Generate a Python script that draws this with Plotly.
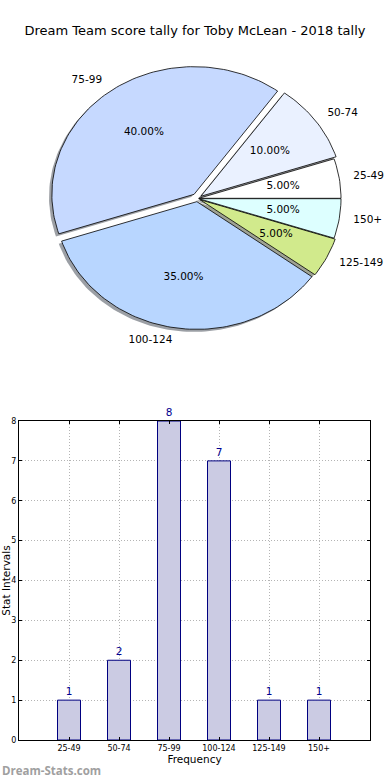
import math
import plotly.graph_objects as go

# ---- data ----
categories = ["25-49", "50-74", "75-99", "100-124", "125-149", "150+"]
counts = [1, 2, 8, 7, 1, 1]
pie_colors = ["#FFFFFF", "#EAF1FF", "#C6D9FF", "#B8D6FF", "#D1EA8C", "#DDFFFF"]
explode = [0.01, 0.03, 0.04, 0.025, 0.02, 0.01]
title_text = "Dream Team score tally for Toby McLean - 2018 tally"
bar_title_x = "Frequency"
bar_title_y = "Stat Intervals"
watermark = "Dream-Stats.com"

W, H = 390, 780
FONT = "DejaVu Sans"

# pie drawing area (pixel mapping of the pie's data axes)
PCX, PCY, RH, RV = 197.4, 198.5, 142.2, 127.7
PIE_BOTTOM = 390


def hex_rgb(h):
    h = h.lstrip("#")
    return tuple(int(h[i:i + 2], 16) for i in (0, 2, 4))


fig = go.Figure()

total = float(sum(counts))
wedges = []
start = 0.0
for lab, val, col, ex in zip(categories, counts, pie_colors, explode):
    t1 = start
    t2 = start + 360.0 * val / total
    start = t2
    mid = math.radians((t1 + t2) / 2)
    ox, oy = ex * math.cos(mid), ex * math.sin(mid)
    n = max(8, int((t2 - t1) / 1.5))
    xs = [ox] + [ox + math.cos(math.radians(t1 + (t2 - t1) * k / n)) for k in range(n + 1)] + [ox]
    ys = [oy] + [oy + math.sin(math.radians(t1 + (t2 - t1) * k / n)) for k in range(n + 1)] + [oy]
    wedges.append((lab, val, col, ex, mid, ox, oy, xs, ys))

# shadows (below all wedges)
for lab, val, col, ex, mid, ox, oy, xs, ys in wedges:
    r, g, b = hex_rgb(col)
    fig.add_trace(go.Scatter(
        x=[v - 0.02 for v in xs], y=[v - 0.02 for v in ys],
        xaxis="x2", yaxis="y2", mode="lines", fill="toself",
        fillcolor=f"rgba({int(0.3 * r)},{int(0.3 * g)},{int(0.3 * b)},0.5)",
        line=dict(width=0), hoverinfo="skip", showlegend=False,
    ))

# wedges
for lab, val, col, ex, mid, ox, oy, xs, ys in wedges:
    fig.add_trace(go.Scatter(
        x=xs, y=ys, xaxis="x2", yaxis="y2", mode="lines", fill="toself",
        fillcolor=col, line=dict(color="#000000", width=0.8),
        name=lab, hoverinfo="name", showlegend=False,
    ))

# percent texts (pctdistance 0.6) and labels (labeldistance 1.1)
pct_x, pct_y, pct_t = [], [], []
lab_x, lab_y, lab_t, lab_pos = [], [], [], []
for lab, val, col, ex, mid, ox, oy, xs, ys in wedges:
    pct_x.append(ox + 0.6 * math.cos(mid))
    pct_y.append(oy + 0.6 * math.sin(mid))
    pct_t.append(f"{100.0 * val / total:.2f}%")
    lx = ox + 1.1 * math.cos(mid)
    lab_x.append(lx)
    lab_y.append(oy + 1.1 * math.sin(mid))
    lab_t.append(lab)
    lab_pos.append("middle right" if lx > 0 else "middle left")

fig.add_trace(go.Scatter(
    x=pct_x, y=pct_y, text=pct_t, mode="text", textposition="middle center",
    xaxis="x2", yaxis="y2", textfont=dict(family=FONT, size=10.5, color="#000000"),
    hoverinfo="skip", showlegend=False, cliponaxis=False,
))
fig.add_trace(go.Scatter(
    x=lab_x, y=lab_y, text=lab_t, mode="text", textposition=lab_pos,
    xaxis="x2", yaxis="y2", textfont=dict(family=FONT, size=10.5, color="#000000"),
    hoverinfo="skip", showlegend=False, cliponaxis=False,
))

# bar chart
fig.add_trace(go.Bar(
    x=categories, y=counts, width=0.46,
    marker=dict(color="#CBCBE3", line=dict(color="#000080", width=1)),
    text=[str(c) for c in counts], textposition="outside",
    textfont=dict(family=FONT, size=10.5, color="#000090"),
    cliponaxis=False, showlegend=False, hoverinfo="x+y",
))

fig.update_layout(
    width=W, height=H,
    margin=dict(l=0, r=0, t=0, b=0),
    paper_bgcolor="white", plot_bgcolor="rgba(0,0,0,0)",
    font=dict(family=FONT, color="#000000"),
    title=dict(text=title_text, x=0.5, xanchor="center", y=1 - 30 / H, yanchor="middle",
               font=dict(family=FONT, size=13, color="#000000")),
    xaxis=dict(domain=[19 / W, 370 / W], range=[-1, 6.02], type="category",
               showline=True, linecolor="black", linewidth=1, mirror="allticks",
               ticks="inside", ticklen=3, tickcolor="black",
               showgrid=True, gridcolor="#b4b4b4", griddash="1px,2px", gridwidth=1,
               tickfont=dict(family=FONT, size=8, color="#000000"),
               title=dict(text=bar_title_x, font=dict(family=FONT, size=10.5), standoff=4),
               zeroline=False, automargin=False),
    yaxis=dict(domain=[1 - 740 / H, 1 - 421 / H], range=[0, 8], dtick=1,
               showline=True, linecolor="black", linewidth=1, mirror="allticks",
               ticks="inside", ticklen=3, tickcolor="black",
               showgrid=True, gridcolor="#b4b4b4", griddash="1px,2px", gridwidth=1,
               tickfont=dict(family=FONT, size=8, color="#000000"),
               title=dict(text=bar_title_y, font=dict(family=FONT, size=10.5), standoff=0),
               zeroline=False, automargin=False),
    xaxis2=dict(domain=[0, 1], range=[-PCX / RH, (W - PCX) / RH], visible=False,
                fixedrange=True),
    yaxis2=dict(domain=[1 - PIE_BOTTOM / H, 1],
                range=[-(PIE_BOTTOM - PCY) / RV, PCY / RV], visible=False, fixedrange=True),
    annotations=[dict(text=f"<b>{watermark}</b>", x=0, y=1 - 770 / H, xref="paper", yref="paper",
                      xanchor="left", yanchor="middle", showarrow=False,
                      font=dict(family="Open Sans", size=11.5, color="#a0a0a0"))],
)

fig.write_html("out.html", config={"displayModeBar": False},
               post_script="document.body.style.margin='0px';")
